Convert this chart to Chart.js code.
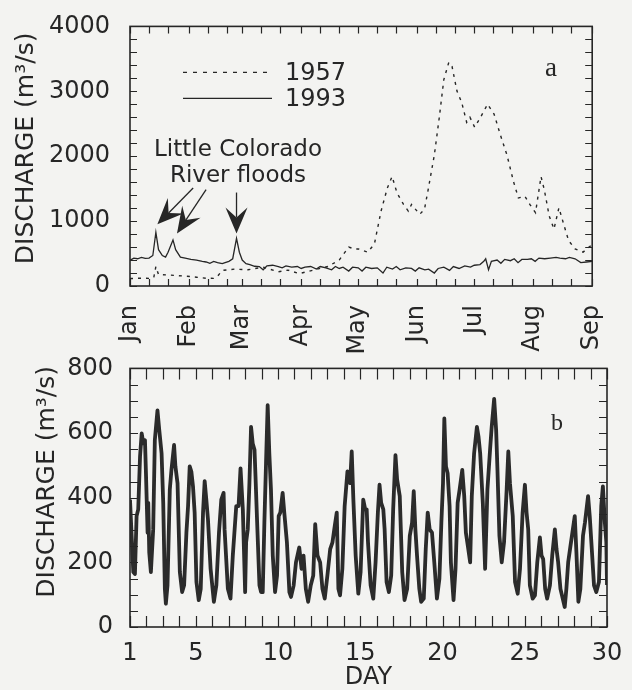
<!DOCTYPE html>
<html>
<head>
<meta charset="utf-8">
<script src="https://cdn.jsdelivr.net/npm/chart.js@4.4.1/dist/chart.umd.min.js"></script>
<style>
  html, body { margin: 0; padding: 0; background: #f3f3f1; }
  #wrap { position: relative; width: 632px; height: 690px; overflow: hidden; }
  .panel { position: absolute; left: 0; width: 632px; }
</style>
</head>
<body>
<div id="wrap">
  <div class="panel" style="top:0;height:362px"><canvas id="flowA" width="632" height="362"></canvas></div>
  <div class="panel" style="top:345px;height:345px"><canvas id="flowB" width="632" height="345"></canvas></div>
</div>
<script>
// panel a: daily discharge, day of year (0 = Jan 1)
const monthNames = ['Jan', 'Feb', 'Mar', 'Apr', 'May', 'Jun', 'Jul', 'Aug', 'Sep'];
const monthStarts = [0, 31, 59, 90, 120, 151, 181, 212, 243];

const days1957 = [0, 5, 10, 12.5, 13.6, 15, 20, 25, 30, 35, 40, 44, 46, 48.5, 55, 62, 70, 78, 83, 89, 93, 97,
  104, 110, 115, 118, 120, 125, 128.5, 132, 135.3, 137.8, 140.4, 143.8, 146.3, 148, 152.3, 154.8, 156.6,
  160, 162.5, 165, 167.6, 169.3, 171.9, 174.4, 177, 178.7, 181.2, 183.8, 188, 191.4, 194.8, 198.2, 201.6,
  204.2, 207.6, 210.2, 213.2, 216.1, 217.8, 220.4, 222.9, 225.5, 228, 230.6, 234, 238.2, 243];
const flow1957 = [115, 120, 118, 130, 300, 175, 170, 160, 150, 135, 120, 118, 150, 240, 260, 250, 290, 220, 245, 190, 220, 250,
  300, 400, 600, 570, 572, 522, 648, 1155, 1510, 1687, 1433, 1257, 1155, 1257, 1105, 1180, 1459,
  2017, 2573, 3181, 3445, 3384, 3004, 2827, 2523, 2600, 2447, 2573, 2801, 2650, 2321, 2017, 1611,
  1357, 1383, 1257, 1130, 1687, 1485, 1079, 877, 1206, 953, 699, 572, 522, 640];

const days1993 = [0, 2, 4, 6, 8, 10, 12, 13.6, 15, 17, 18.7, 20, 22.6, 24, 26.5, 29, 32, 35, 38, 40, 42, 44, 46,
  48.5, 50, 52, 54, 56, 57.5, 59, 61, 63, 65.5, 68, 70, 72, 75, 78, 80, 82, 85, 88, 90, 92, 95, 98, 100,
  103, 106, 108, 110, 112, 115, 117, 120, 122, 124, 127, 130, 133, 135, 138, 140, 142, 145, 148, 150,
  152, 155, 157, 160, 162, 165, 168, 170, 173, 176, 179, 181, 184, 186, 187, 188.5, 190, 193, 195, 197,
  200, 202, 204, 206, 209, 211, 213, 215, 218, 221, 224, 226, 229, 231, 234, 237, 240, 243];
const flow1993 = [395, 430, 420, 440, 425, 430, 470, 826, 560, 470, 445, 520, 710, 560, 445, 430, 410, 400, 380, 370, 350, 380, 360,
  345, 360, 380, 420, 735, 520, 400, 345, 330, 304, 300, 250, 310, 320, 300, 280, 310, 290, 300, 270, 290, 300, 260, 300,
  280, 250, 300, 270, 290, 230, 290, 280, 230, 290, 270, 280, 200, 290, 260, 300, 250, 280, 270, 230,
  280, 250, 260, 200, 270, 290, 240, 300, 270, 310, 290, 320, 330, 380, 420, 250, 380, 400, 350, 410,
  390, 420, 360, 410, 410, 420, 380, 430, 420, 430, 440, 430, 420, 440, 420, 360, 370, 380];

// panel b: hourly-scale discharge over 30 days
const hourDays = [1.00, 1.20, 1.30, 1.40, 1.50, 1.61, 1.71, 1.81, 1.91, 1.97, 2.07, 2.11, 2.17, 2.27, 2.41, 2.51, 2.67, 2.78, 2.92,
  3.02, 3.12, 3.18, 3.28, 3.42, 3.52, 3.68, 3.76, 3.89, 4.03, 4.17, 4.29, 4.43, 4.53, 4.63, 4.73, 4.83, 4.93,
  5.04, 5.18, 5.30, 5.44, 5.54, 5.64, 5.74, 5.90, 6.10, 6.25, 6.41, 6.55, 6.69, 6.75, 6.95, 7.11, 7.25, 7.46,
  7.60, 7.72, 7.86, 8.00, 8.06, 8.16, 8.26, 8.36, 8.46, 8.57, 8.63, 8.73, 8.87, 8.97, 9.07, 9.17, 9.27, 9.37,
  9.47, 9.57, 9.68, 9.82, 9.94, 10.04, 10.14, 10.28, 10.38, 10.54, 10.69, 10.79, 10.95, 11.09, 11.29, 11.43,
  11.55, 11.69, 11.83, 11.99, 12.14, 12.26, 12.40, 12.56, 12.70, 12.84, 13.00, 13.17, 13.31, 13.45, 13.57,
  13.67, 13.77, 13.91, 14.05, 14.22, 14.38, 14.48, 14.58, 14.72, 14.88, 15.02, 15.18, 15.30, 15.39, 15.47,
  15.63, 15.79, 15.93, 16.07, 16.17, 16.27, 16.40, 16.48, 16.60, 16.74, 16.88, 17.00, 17.14, 17.24, 17.40,
  17.55, 17.69, 17.85, 18.01, 18.15, 18.25, 18.35, 18.45, 18.59, 18.70, 18.86, 18.98, 19.10, 19.22, 19.36,
  19.50, 19.66, 19.81, 19.93, 20.03, 20.11, 20.21, 20.31, 20.43, 20.51, 20.67, 20.79, 20.92, 21.04, 21.20,
  21.32, 21.42, 21.54, 21.68, 21.78, 21.92, 22.09, 22.19, 22.29, 22.45, 22.59, 22.73, 22.89, 22.99, 23.14,
  23.26, 23.34, 23.46, 23.60, 23.74, 23.90, 24.00, 24.10, 24.27, 24.41, 24.57, 24.71, 24.87, 25.01, 25.11,
  25.21, 25.31, 25.48, 25.62, 25.76, 25.92, 26.02, 26.12, 26.24, 26.36, 26.53, 26.67, 26.83, 26.93, 27.03,
  27.17, 27.43, 27.53, 27.64, 27.78, 28.04, 28.14, 28.26, 28.38, 28.54, 28.66, 28.85, 28.95, 29.05, 29.21,
  29.35, 29.51, 29.65, 29.75, 29.87, 29.96, 30.00];
const hourFlow = [394, 170, 164, 343, 364, 527, 599, 568, 578, 476, 292, 384, 231, 170, 302, 578, 670, 609, 537,
  384, 118, 72, 129, 425, 486, 563, 497, 445, 170, 108, 129, 292, 374, 497, 481, 435, 354,
  139, 83, 118, 354, 451, 394, 333, 180, 78, 129, 292, 394, 415, 302, 118, 88, 221, 374,
  374, 491, 364, 108, 262, 302, 445, 619, 568, 548, 466, 323, 129, 108, 108, 323, 507, 686,
  537, 425, 221, 108, 159, 343, 354, 415, 354, 262, 108, 93, 129, 200, 246, 180,
  221, 118, 78, 129, 159, 318, 221, 200, 118, 88, 159, 241, 262, 313, 354,
  118, 98, 180, 374, 481, 445, 543, 394, 221, 103, 170, 394, 364, 364, 262,
  129, 88, 200, 354, 440, 384, 364, 302, 139, 108, 159, 364, 532, 456, 405,
  170, 83, 118, 282, 323, 420, 302, 221, 118, 78, 88, 241, 354, 302, 292,
  200, 88, 149, 323, 445, 645, 497, 476, 374, 200, 83, 180, 384, 425, 486,
  405, 292, 251, 200, 405, 537, 619, 588, 537, 384, 180, 425, 548, 619, 706,
  609, 486, 282, 200, 262, 425, 543, 445, 343, 139, 103, 180, 354, 440, 354,
  302, 129, 88, 98, 200, 277, 221, 210, 118, 88, 129, 221, 302, 241, 200,
  118, 62, 118, 200, 251, 343, 231, 78, 118, 282, 323, 405, 343, 262, 129,
  108, 139, 374, 435, 323, 262, 130];

const dayLabels = [1, 5, 10, 15, 20, 25, 30];

const ink = '#262626';
const sans = 'DejaVu Sans';

function toPoints(xs, ys) {
    return xs.map(function(v, i) { return {x: v, y: ys[i]}; });
}

// frame plus inward tick marks on all four sides
const frameTicks = {
    id: 'frameTicks',
    afterDatasetsDraw(chart, args, opts) {
        const ctx = chart.ctx;
        const a = chart.chartArea;
        const xs = chart.scales.x;
        const ys = chart.scales.y;
        ctx.save();
        ctx.strokeStyle = ink;
        ctx.lineWidth = 1.2;
        ctx.beginPath();
        xs.ticks.forEach(function(t) {
            const px = Math.round(xs.getPixelForValue(t.value)) + 0.5;
            ctx.moveTo(px, a.bottom); ctx.lineTo(px, a.bottom - opts.xLen);
            ctx.moveTo(px, a.top); ctx.lineTo(px, a.top + opts.xLen);
        });
        ys.ticks.forEach(function(t) {
            const py = Math.round(ys.getPixelForValue(t.value)) + 0.5;
            ctx.moveTo(a.left, py); ctx.lineTo(a.left + opts.yLen, py);
            ctx.moveTo(a.right, py); ctx.lineTo(a.right - opts.yLen, py);
        });
        ctx.stroke();
        ctx.lineWidth = 1.6;
        ctx.strokeRect(a.left, a.top, a.right - a.left, a.bottom - a.top);
        ctx.restore();
    }
};

// rotated y-axis title, centred on a chosen value
const sideTitle = {
    id: 'sideTitle',
    afterDraw(chart, args, opts) {
        const ctx = chart.ctx;
        ctx.save();
        ctx.translate(opts.x, chart.scales.y.getPixelForValue(opts.value));
        ctx.rotate(-Math.PI / 2);
        ctx.font = '25px "' + sans + '"';
        ctx.fillStyle = ink;
        ctx.textAlign = 'center';
        ctx.textBaseline = 'alphabetic';
        ctx.fillText('DISCHARGE (m\u00B3/s)', 0, 0);
        ctx.restore();
    }
};

function arrow(ctx, x0, y0, x1, y1) {
    const ang = Math.atan2(y1 - y0, x1 - x0);
    const len = 26, half = 11, notch = 16;
    ctx.beginPath();
    ctx.moveTo(x0, y0);
    ctx.lineTo(x1 - Math.cos(ang) * notch, y1 - Math.sin(ang) * notch);
    ctx.stroke();
    ctx.save();
    ctx.translate(x1, y1);
    ctx.rotate(ang);
    ctx.beginPath();
    ctx.moveTo(0, 0);
    ctx.lineTo(-len, -half);
    ctx.lineTo(-notch, 0);
    ctx.lineTo(-len, half);
    ctx.closePath();
    ctx.fill();
    ctx.restore();
}

const floodNotes = {
    id: 'floodNotes',
    afterDraw(chart) {
        const ctx = chart.ctx;
        const a = chart.chartArea;
        const xs = chart.scales.x;
        const ys = chart.scales.y;
        ctx.save();
        ctx.fillStyle = ink;
        ctx.strokeStyle = ink;

        // legend
        ctx.lineWidth = 1.4;
        ctx.setLineDash([4, 6]);
        ctx.beginPath();
        ctx.moveTo(a.left + 53, a.top + 46); ctx.lineTo(a.left + 142, a.top + 46);
        ctx.stroke();
        ctx.setLineDash([]);
        ctx.beginPath();
        ctx.moveTo(a.left + 53, a.top + 72); ctx.lineTo(a.left + 142, a.top + 72);
        ctx.stroke();
        ctx.font = '24px "' + sans + '"';
        ctx.textAlign = 'left';
        ctx.textBaseline = 'alphabetic';
        ctx.fillText('1957', a.left + 155, a.top + 54);
        ctx.fillText('1993', a.left + 155, a.top + 80);

        // annotation
        ctx.font = '23px "' + sans + '"';
        ctx.textAlign = 'center';
        ctx.fillText('Little Colorado', a.left + 108, a.top + 130);
        ctx.fillText('River floods', a.left + 108, a.top + 156);

        ctx.lineWidth = 1.3;
        arrow(ctx, xs.getPixelForValue(33.2), ys.getPixelForValue(1510), xs.getPixelForValue(14.4), ys.getPixelForValue(950));
        arrow(ctx, xs.getPixelForValue(40), ys.getPixelForValue(1485), xs.getPixelForValue(24.7), ys.getPixelForValue(810));
        arrow(ctx, xs.getPixelForValue(56), ys.getPixelForValue(1440), xs.getPixelForValue(56), ys.getPixelForValue(810));

        ctx.font = '27px "Liberation Serif"';
        ctx.fillText('a', a.left + 421, a.top + 50);
        ctx.restore();
    }
};

const panelLabelB = {
    id: 'panelLabelB',
    afterDraw(chart) {
        const ctx = chart.ctx;
        const a = chart.chartArea;
        ctx.save();
        ctx.fillStyle = ink;
        ctx.font = '24px "Liberation Serif"';
        ctx.textAlign = 'center';
        ctx.fillText('b', a.left + 427, a.top + 62);
        ctx.restore();
    }
};

const tickFont = {family: sans, size: 24};

// ---- panel a ----
new Chart(document.getElementById('flowA').getContext('2d'), {
    type: 'line',
    data: {
        datasets: [{
            label: '1957',
            data: toPoints(days1957, flow1957),
            borderColor: ink,
            borderWidth: 1.4,
            borderDash: [3, 5],
            pointRadius: 0,
            tension: 0
        }, {
            label: '1993',
            data: toPoints(days1993, flow1993),
            borderColor: ink,
            borderWidth: 1.3,
            pointRadius: 0,
            tension: 0
        }]
    },
    options: {
        responsive: false,
        animation: false,
        layout: {padding: {left: 0, right: 25, top: 23, bottom: 0}},
        plugins: {
            legend: {display: false},
            tooltip: {enabled: false},
            frameTicks: {xLen: 7, yLen: 7},
            sideTitle: {x: 33, value: 2120}
        },
        scales: {
            x: {
                type: 'linear',
                min: 0,
                max: 243,
                grid: {display: false},
                border: {display: false},
                afterBuildTicks: function(scale) {
                    const list = [];
                    monthStarts.forEach(function(m, i) {
                        list.push({value: m});
                        if (i < monthStarts.length - 1) {
                            list.push({value: m + 10});
                            list.push({value: m + 20});
                        }
                    });
                    scale.ticks = list;
                },
                afterFit: function(scale) { scale.height = 76; },
                ticks: {
                    autoSkip: false,
                    minRotation: 90,
                    maxRotation: 90,
                    padding: 11,
                    color: ink,
                    font: tickFont,
                    callback: function(v) {
                        const i = monthStarts.indexOf(v);
                        return i >= 0 ? monthNames[i] : '';
                    }
                }
            },
            y: {
                min: 0,
                max: 4000,
                grid: {display: false},
                border: {display: false},
                afterFit: function(scale) { scale.width = 130; },
                ticks: {
                    stepSize: 200,
                    autoSkip: false,
                    padding: 12,
                    color: ink,
                    font: tickFont,
                    callback: function(v) { return v % 1000 === 0 ? String(v) : ''; }
                }
            }
        }
    },
    plugins: [frameTicks, sideTitle, floodNotes]
});

// ---- panel b ----
new Chart(document.getElementById('flowB').getContext('2d'), {
    type: 'line',
    data: {
        datasets: [{
            label: 'discharge',
            data: toPoints(hourDays, hourFlow),
            borderColor: '#2b2b2b',
            borderWidth: 3.8,
            borderJoinStyle: 'round',
            pointRadius: 0,
            tension: 0
        }]
    },
    options: {
        responsive: false,
        animation: false,
        layout: {padding: {left: 0, right: 25, top: 21, bottom: 0}},
        plugins: {
            legend: {display: false},
            tooltip: {enabled: false},
            frameTicks: {xLen: 11, yLen: 8},
            sideTitle: {x: 54, value: 449}
        },
        scales: {
            x: {
                type: 'linear',
                min: 1,
                max: 30,
                grid: {display: false},
                border: {display: false},
                afterFit: function(scale) { scale.height = 63; },
                title: {
                    display: true,
                    text: 'DAY',
                    color: ink,
                    font: {family: sans, size: 24, lineHeight: 1},
                    padding: {top: 0, bottom: 0}
                },
                ticks: {
                    stepSize: 1,
                    autoSkip: false,
                    maxRotation: 0,
                    padding: 4,
                    color: ink,
                    font: tickFont,
                    callback: function(v) { return dayLabels.indexOf(v) >= 0 ? String(v) : ''; }
                }
            },
            y: {
                min: 0,
                max: 800,
                grid: {display: false},
                border: {display: false},
                afterFit: function(scale) { scale.width = 130; },
                ticks: {
                    stepSize: 50,
                    autoSkip: false,
                    padding: 9,
                    color: ink,
                    font: tickFont,
                    callback: function(v) { return v % 200 === 0 ? String(v) : ''; }
                }
            }
        }
    },
    plugins: [frameTicks, sideTitle, panelLabelB]
});
</script>
</body>
</html>
